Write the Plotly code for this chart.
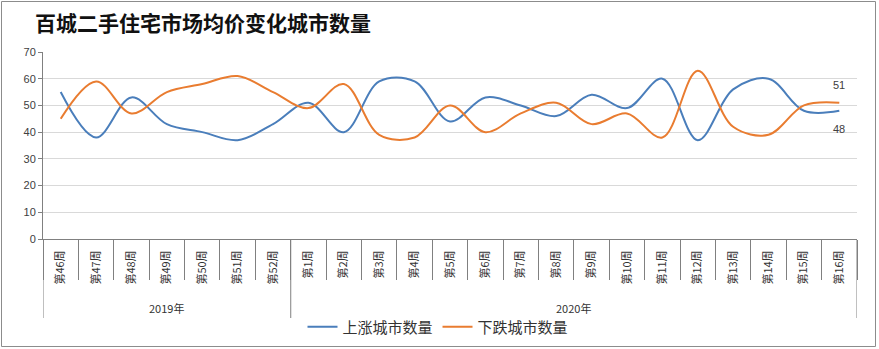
import plotly.graph_objects as go

years = ["2019年"] * 7 + ["2020年"] * 16
weeks = ["第46周", "第47周", "第48周", "第49周", "第50周", "第51周", "第52周",
         "第1周", "第2周", "第3周", "第4周", "第5周", "第6周", "第7周", "第8周",
         "第9周", "第10周", "第11周", "第12周", "第13周", "第14周", "第15周", "第16周"]
up = [55, 38, 53, 43, 40, 37, 43, 51, 40, 59, 59, 44, 53, 50, 46, 54, 49, 60, 37, 56, 60, 48, 48]
down = [45, 59, 47, 55, 58, 61, 55, 49, 58, 39, 38, 50, 40, 47, 51, 43, 47, 38, 63, 42, 39, 50, 51]

title_text = "百城二手住宅市场均价变化城市数量"
name_up = "上涨城市数量"
name_down = "下跌城市数量"

c_up = "#4A7EBB"
c_down = "#E97C30"
axis_c = "#808080"
cjk = "Noto Sans CJK SC"

fig = go.Figure()
fig.add_trace(go.Scatter(x=weeks, y=up, mode="lines", name=name_up,
                         line=dict(color=c_up, width=2, shape="spline", smoothing=1.0)))
fig.add_trace(go.Scatter(x=weeks, y=down, mode="lines", name=name_down,
                         line=dict(color=c_down, width=2, shape="spline", smoothing=1.0)))

last = len(weeks) - 1
fig.add_annotation(x=last, y=down[-1], text=str(down[-1]), showarrow=False, yshift=18,
                   font=dict(family="Liberation Sans", size=11, color="#404040"))
fig.add_annotation(x=last, y=up[-1], text=str(up[-1]), showarrow=False, yshift=-18,
                   font=dict(family="Liberation Sans", size=11, color="#404040"))

W, H = 879, 349
L, R, T, B = 43, 22, 52, 110
pw, ph = W - L - R, H - T - B

def px(xp):
    return (xp - L) / pw

def py(yp):
    return (H - B - yp) / ph

# outer frame of the chart
fig.add_shape(type="rect", xref="paper", yref="paper",
              x0=px(1.5), x1=px(875.5), y0=py(346.5), y1=py(1.5),
              line=dict(color="#8c8c8c", width=1), fillcolor="rgba(0,0,0,0)", layer="below")

# year groups: labels and dividers derived from the years array
groups = []
for i, yv in enumerate(years):
    if not groups or groups[-1][0] != yv:
        groups.append([yv, i, i])
    else:
        groups[-1][2] = i
bounds = sorted({g[1] - 0.5 for g in groups} | {g[2] + 0.5 for g in groups})
for b in bounds:
    fig.add_shape(type="line", xref="x", yref="paper", x0=b, x1=b, y0=0, y1=py(318),
                  line=dict(color=axis_c, width=1))
for name, i0, i1 in groups:
    fig.add_annotation(x=(i0 + i1) / 2, y=py(308), xref="x", yref="paper", text=name,
                       showarrow=False, yanchor="middle",
                       font=dict(family=cjk, size=11, color="#333333"))

fig.update_layout(
    width=W, height=H,
    margin=dict(l=L, r=R, t=T, b=B, autoexpand=False),
    paper_bgcolor="white", plot_bgcolor="white",
    title=dict(text=title_text, x=35 / W, xanchor="left", y=1 - 24 / H, yanchor="middle",
               xref="container",
               font=dict(family=cjk, size=21, color="#111111", weight="bold")),
    showlegend=True,
    legend=dict(orientation="h", x=px(438), xanchor="center", y=py(327), yanchor="middle",
                font=dict(family=cjk, size=15, color="#333333"), itemwidth=30,
                bgcolor="rgba(0,0,0,0)"),
)

fig.update_xaxes(
    type="category",
    range=[-0.5, len(weeks) - 0.5],
    showline=True, linecolor=axis_c, linewidth=1,
    ticks="outside", ticklen=40, tickcolor=axis_c, tickson="boundaries",
    tickangle=-90, ticklabelstandoff=6,
    tickfont=dict(family=cjk, size=11, color="#333333"),
    showgrid=False, zeroline=False, automargin=False,
)
fig.update_yaxes(
    range=[0, 70], dtick=10,
    showgrid=True, gridcolor="#d9d9d9", gridwidth=1,
    showline=True, linecolor=axis_c, linewidth=1,
    ticks="outside", ticklen=4, tickcolor=axis_c,
    tickfont=dict(family="Liberation Sans", size=11, color="#404040"),
    zeroline=False, automargin=False,
)

fig.write_html("out.html")
